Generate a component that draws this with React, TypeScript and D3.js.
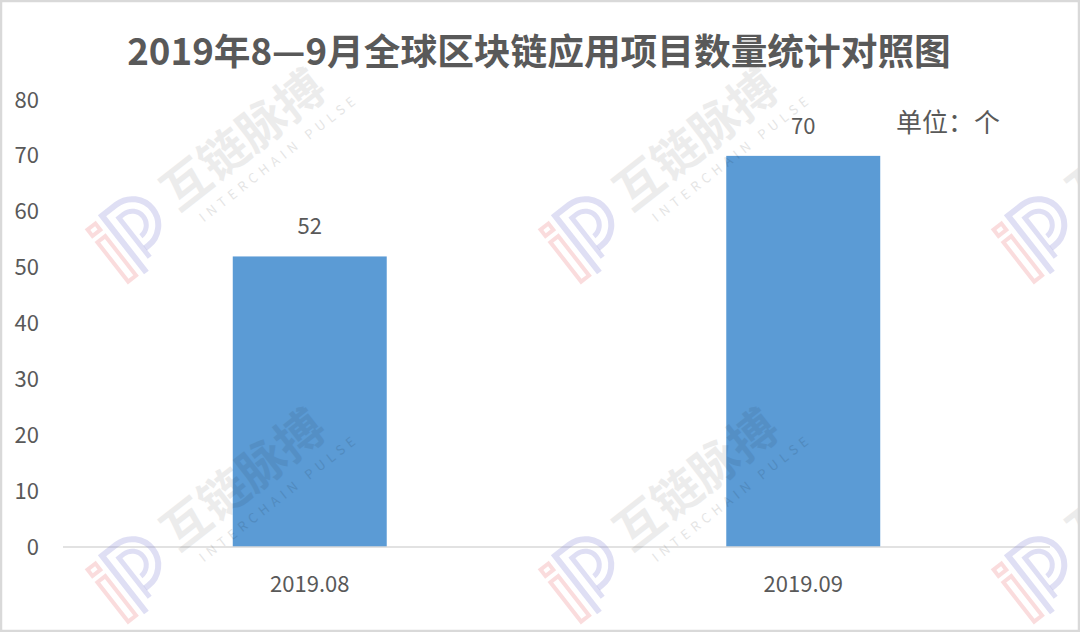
import * as d3 from "d3";
import { useEffect, useRef } from "react";

const categories = ["2019.08", "2019.09"];
const values = [52, 70];
const yTicks = [0, 10, 20, 30, 40, 50, 60, 70, 80];
const title = "2019年8—9月全球区块链应用项目数量统计对照图";
const unitLabel = "单位：个";
const watermarkCN = "互链脉搏";
const watermarkEN = "INTERCHAIN PULSE";

const W = 1080;
const H = 632;
const FONT = "'Noto Sans CJK SC', 'Noto Sans', sans-serif";
const TEXT = "#595959";

function App() {
  const ref = useRef<SVGSVGElement | null>(null);

  useEffect(() => {
    const svg = d3.select(ref.current);
    svg.selectAll("*").remove();

    svg.append("rect").attr("width", W).attr("height", H).attr("fill", "#fff");

    const x = d3
      .scaleBand()
      .domain(categories)
      .range([63, 1050])
      .paddingInner(0.688)
      .paddingOuter(0.344);

    const y = d3.scaleLinear().domain([0, 80]).range([547, 100]);

    // title
    svg
      .append("text")
      .attr("x", 539)
      .attr("y", 65)
      .attr("text-anchor", "middle")
      .attr("font-family", FONT)
      .attr("font-weight", "bold")
      .attr("font-size", 36.7)
      .attr("fill", TEXT)
      .text(title);

    // y axis labels
    const yAxis = d3
      .axisLeft(y)
      .tickValues(yTicks)
      .tickSize(0)
      .tickPadding(0);
    const gy = svg.append("g").attr("transform", "translate(39,0)").call(yAxis);
    gy.select(".domain").remove();
    gy.selectAll("text")
      .attr("font-family", FONT)
      .attr("font-size", 22)
      .attr("fill", TEXT);

    // bars
    svg
      .selectAll(".bar")
      .data(values)
      .join("rect")
      .attr("class", "bar")
      .attr("x", (_, i) => x(categories[i]) as number)
      .attr("y", (d) => y(d))
      .attr("width", x.bandwidth())
      .attr("height", (d) => y(0) - y(d))
      .attr("fill", "#5B9BD5");

    // value labels
    svg
      .selectAll(".val")
      .data(values)
      .join("text")
      .attr("class", "val")
      .attr("x", (_, i) => (x(categories[i]) as number) + x.bandwidth() / 2)
      .attr("y", (d) => y(d) - 22)
      .attr("text-anchor", "middle")
      .attr("font-family", FONT)
      .attr("font-size", 22)
      .attr("fill", TEXT)
      .text((d) => d);

    // baseline
    svg
      .append("line")
      .attr("x1", 63)
      .attr("x2", 1050)
      .attr("y1", y(0))
      .attr("y2", y(0))
      .attr("stroke", "#d9d9d9")
      .attr("stroke-width", 1.5);

    // x axis labels
    const xAxis = d3.axisBottom(x).tickSize(0).tickPadding(29);
    const gx = svg.append("g").attr("transform", `translate(0,${y(0)})`).call(xAxis);
    gx.select(".domain").remove();
    gx.selectAll("text")
      .attr("font-family", FONT)
      .attr("font-size", 22)
      .attr("fill", TEXT);

    // unit
    svg
      .append("text")
      .attr("x", 896)
      .attr("y", 132)
      .attr("font-family", FONT)
      .attr("font-size", 26)
      .attr("fill", TEXT)
      .text(unitLabel);

    // watermarks (the last column is clipped by the edge, as in the source)
    const spots: [number, number][] = [];
    for (let r = 0; r < 2; r++) {
      for (let c = 0; c < 3; c++) spots.push([130 + c * 453, 232 + r * 340]);
    }
    spots.forEach(([cx, cy]) => {
      const g = svg
        .append("g")
        .attr("transform", `translate(${cx},${cy}) rotate(-38)`)
        .attr("pointer-events", "none");
      // red "i"
      g.append("rect")
        .attr("x", -32)
        .attr("y", -12)
        .attr("width", 10)
        .attr("height", 50)
        .attr("fill", "none")
        .attr("stroke", "#f08a8f")
        .attr("stroke-width", 4)
        .attr("opacity", 0.3);
      g.append("rect")
        .attr("x", -32)
        .attr("y", -28)
        .attr("width", 10)
        .attr("height", 8)
        .attr("fill", "none")
        .attr("stroke", "#f08a8f")
        .attr("stroke-width", 4)
        .attr("opacity", 0.3);
      // blue "P"
      g.append("path")
        .attr("d", "M -12,42 V -30 H 6 A 26 26 0 0 1 6,22 H 2")
        .attr("fill", "none")
        .attr("stroke", "#8c8cd6")
        .attr("stroke-width", 6)
        .attr("opacity", 0.28);
      g.append("path")
        .attr("d", "M 0,32 V -18 H 6 A 14 14 0 0 1 6,10")
        .attr("fill", "none")
        .attr("stroke", "#8c8cd6")
        .attr("stroke-width", 5)
        .attr("opacity", 0.28);
      g.append("text")
        .attr("x", 50)
        .attr("y", 14)
        .attr("font-family", FONT)
        .attr("font-weight", "bold")
        .attr("font-size", 48)
        .attr("fill", "#000")
        .attr("opacity", 0.07)
        .text(watermarkCN);
      g.append("text")
        .attr("x", 64)
        .attr("y", 38)
        .attr("font-family", FONT)
        .attr("font-size", 13)
        .attr("letter-spacing", 5)
        .attr("fill", "#000")
        .attr("opacity", 0.1)
        .text(watermarkEN);
    });

    // outer frame
    svg
      .append("rect")
      .attr("x", 1)
      .attr("y", 1)
      .attr("width", W - 2)
      .attr("height", H - 2)
      .attr("fill", "none")
      .attr("stroke", "#d9d9d9")
      .attr("stroke-width", 2.5);
  }, []);

  return (
    <div style={{ position: "fixed", left: 0, top: 0 }}>
      <svg ref={ref} width={W} height={H} style={{ display: "block" }}></svg>
    </div>
  );
}

export default App;
